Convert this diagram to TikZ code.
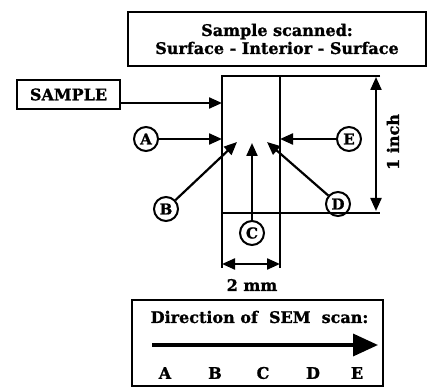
\documentclass[tikz,border=0pt]{standalone}
\usepackage{fontspec}
\setmainfont{DejaVu Serif}[BoldFeatures={FakeBold=1.2}]
\usetikzlibrary{arrows.meta}

\begin{document}
\begin{tikzpicture}[
    x=1pt, y=-1pt,
    font=\fontsize{16}{18}\selectfont\bfseries,
    >={Triangle[length=13pt,width=11pt]},
    line width=2.2pt,
    textbox/.style={draw, line width=2.2pt, inner sep=0pt, align=center},
    pointcircle/.style={draw, circle, line width=2pt, minimum size=24pt, inner sep=0pt, font=\fontsize{15}{15}\selectfont\bfseries},
    dimlabel/.style={font=\fontsize{16}{18}\selectfont\bfseries}
]
\useasboundingbox (0,0) rectangle (428,387);

\node[textbox, minimum width=298pt, minimum height=54pt] (titlebox) at (277,39) {Sample scanned:\\Surface - Interior - Surface};
\node[textbox, minimum width=103pt, minimum height=29pt] (samplebox) at (68.5,94.5) {SAMPLE};

\coordinate (bodytl) at (222,76);
\coordinate (bodytr) at (280,76);
\coordinate (bodybl) at (222,213);
\coordinate (legl) at (222,268);
\coordinate (legr) at (280,268);
\coordinate (toprule) at (380,76);
\coordinate (botrule) at (380,213);
\draw (toprule) -- (bodytl) -- (legl);
\draw (bodytr) -- (legr);
\draw (bodybl) -- (botrule);

\node[pointcircle] (pa) at (146,139) {A};
\node[pointcircle] (pb) at (166,209) {B};
\node[pointcircle] (pc) at (252,233) {C};
\node[pointcircle] (pd) at (338,204) {D};
\node[pointcircle] (pe) at (349,139) {E};

\coordinate (tipsample) at (222,103);
\coordinate (tipa) at (222,139);
\coordinate (tipb) at (237,142);
\coordinate (tipc) at (252,143);
\coordinate (tipd) at (267,142);
\coordinate (tipe) at (280,139);

\draw[->] (samplebox.east |- tipsample) -- (tipsample);
\draw[->] (pa) -- (tipa);
\draw[->] (pe) -- (tipe);
\draw[->] (pb) -- (tipb);
\draw[->] (pc) -- (tipc);
\draw[->] (pd) -- (tipd);

\coordinate (inchtop) at (376,77);
\coordinate (inchbot) at (376,211);
\draw[<->] (inchtop) -- (inchbot);
\node[dimlabel, rotate=90] (inchlabel) at (393,142) {1 inch};

\coordinate (mmleft) at (222,264);
\coordinate (mmright) at (280,264);
\draw[<->] (mmleft) -- (mmright);
\node[dimlabel] (mmlabel) at (252,285) {2 mm};

\node[textbox, minimum width=251pt, minimum height=86pt] (scanbox) at (257.5,343) {};
\node[dimlabel] (scantitle) at (259.5,317) {Direction of\ \ SEM\ \ scan:};
\coordinate (scanstart) at (152,345);
\coordinate (scanend) at (378,345);
\draw[line width=3.5pt, -{Triangle[length=25pt,width=22pt]}] (scanstart) -- (scanend);
\foreach \lbl/\xpos in {A/165,B/215,C/263,D/313,E/357}
  \node[dimlabel] (scan\lbl) at (\xpos,373) {\lbl};
\end{tikzpicture}
\end{document}
